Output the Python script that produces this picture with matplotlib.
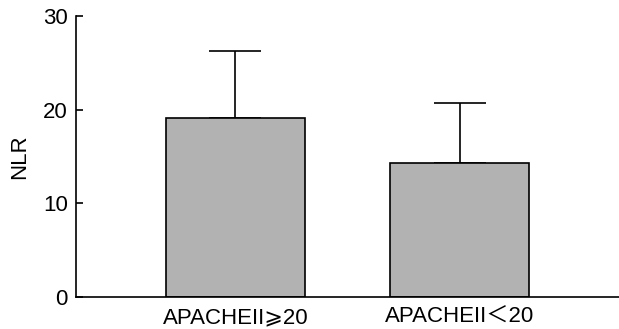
import matplotlib
matplotlib.use('Agg')
import matplotlib.pyplot as plt

# NLR by APACHE II group (mean + SD, upper whisker only)
groups = ['APACHEII\u2a7e20', 'APACHEII\uff1c20']
means = [19.1, 14.35]
sds = [7.15, 6.3]

plt.rcParams['font.family'] = ['Liberation Sans', 'DejaVu Sans', 'Noto Sans CJK SC']

fig = plt.figure(figsize=(6.19, 3.29), dpi=100)
ax = fig.add_axes([0.1228, 0.0964, 0.8772, 0.856])

x = list(range(len(groups)))
ax.bar(x, means, width=0.62, color='#b2b2b2', edgecolor='black', linewidth=1.2, zorder=2)
ax.errorbar(x, means, yerr=[[0] * len(sds), sds], fmt='none', ecolor='black',
            elinewidth=1.2, capsize=19, capthick=1.2, zorder=1)

ax.set_xlim(-0.71, 1.71)
ax.set_ylim(0, 30)
ax.set_yticks([0, 10, 20, 30])
ax.set_xticks(x)
ax.set_xticklabels(groups)
ax.set_ylabel('NLR', fontsize=16, labelpad=9)

ax.spines['top'].set_visible(False)
ax.spines['right'].set_visible(False)
for s in ['left', 'bottom']:
    ax.spines[s].set_linewidth(1.2)

ax.tick_params(axis='y', direction='in', length=5, width=1.2, pad=6, labelsize=16)
ax.tick_params(axis='x', length=0, pad=7, labelsize=16)

plt.savefig('out.png', dpi=100)
plt.close()
